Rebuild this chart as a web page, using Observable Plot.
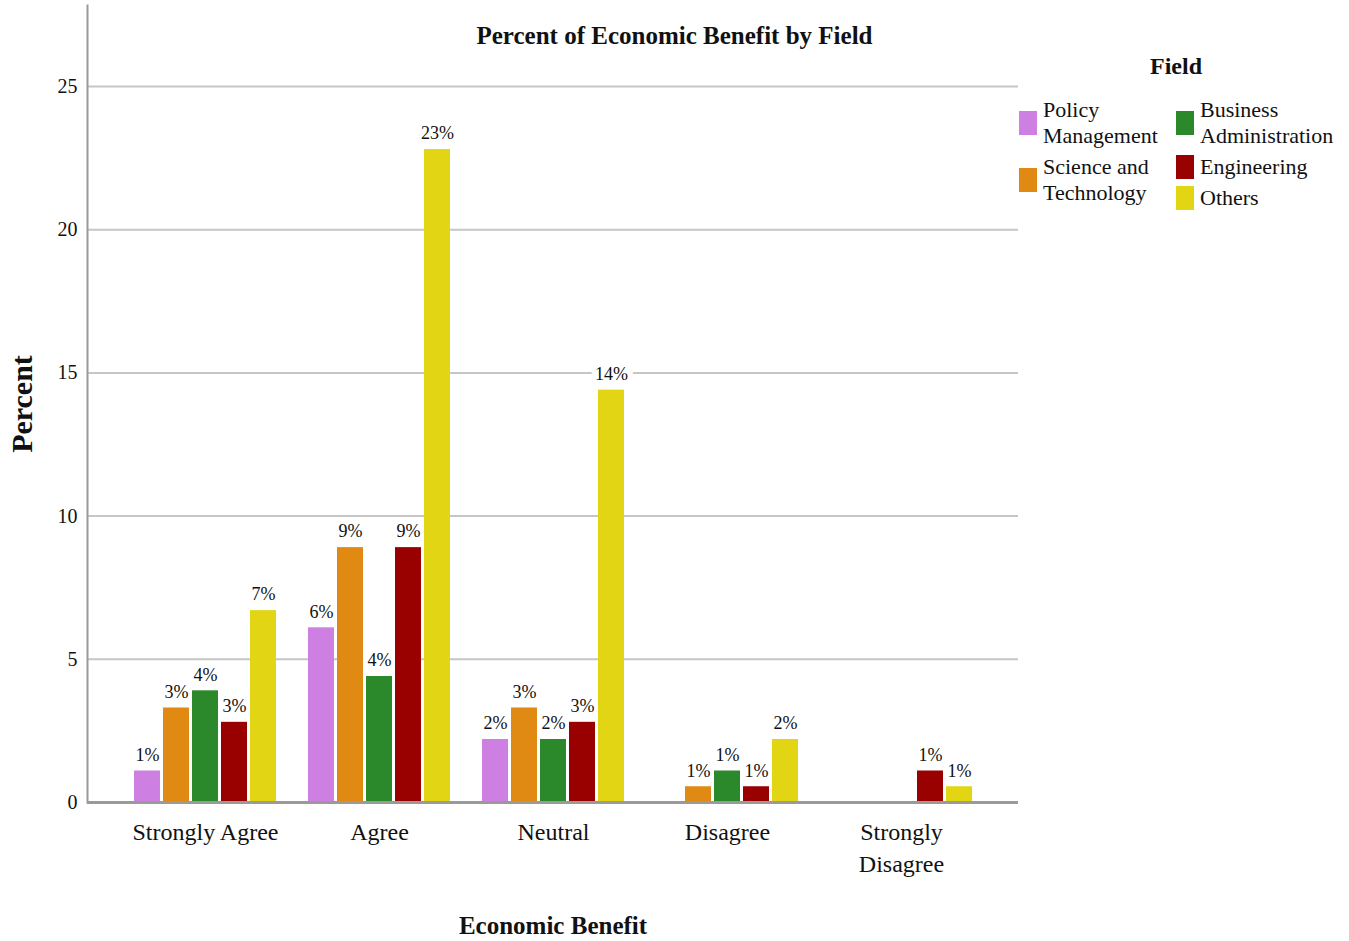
<!DOCTYPE html>
<html>
<head>
<meta charset="utf-8">
<script src="https://cdn.jsdelivr.net/npm/d3@7"></script>
<script src="https://cdn.jsdelivr.net/npm/@observablehq/plot@0.6"></script>
<style>
  html, body { margin: 0; padding: 0; background: #fff; }
  #chart { position: relative; width: 1349px; height: 941px; font-family: "Liberation Serif", "Times New Roman", serif; color: #111; }
  #title { position: absolute; left: 0; width: 1349px; top: 20px; text-align: center; font-weight: bold; font-size: 25px; line-height: 32px; }
  #legend { position: absolute; left: 1019px; top: 50px; width: 330px; }
  #legend .head { position: absolute; left: 0; width: 314px; top: 0; text-align: center; font-weight: bold; font-size: 24px; line-height: 32px; }
  #legend .cols { position: absolute; top: 47px; left: 0; display: flex; }
  #legend .col { display: flex; flex-direction: column; gap: 5px; }
  #legend .col + .col { position: absolute; left: 157px; width: 180px; }
  #legend .item { display: flex; align-items: center; }
  #legend .sw { width: 18px; height: 24px; flex: none; margin-right: 6px; }
  #legend .lab { font-size: 22px; line-height: 26px; white-space: pre; }
</style>
</head>
<body>
<div id="chart">
  <div id="title"></div>
  <div id="legend"></div>
</div>
<script>
// Response categories (x groups) and their axis labels
const categories = ["Strongly Agree", "Agree", "Neutral", "Disagree", "Strongly Disagree"];
const categoryLabels = ["Strongly Agree", "Agree", "Neutral", "Disagree", "Strongly\nDisagree"];

// Fields (series) and their colours
const fields = ["Policy Management", "Science and Technology", "Business Administration", "Engineering", "Others"];
const fieldLabels = ["Policy\nManagement", "Science and\nTechnology", "Business\nAdministration", "Engineering", "Others"];
const fieldColors = ["#cd80e2", "#e08a13", "#2b882b", "#990000", "#e2d614"];

// Percent of respondents per category, one array per field (null = no responses)
const policyManagement       = [1.1,  6.1,  2.2, null, null];
const scienceTechnology      = [3.3,  8.9,  3.3, 0.55, null];
const businessAdministration = [3.9,  4.4,  2.2, 1.1,  null];
const engineering            = [2.8,  8.9,  2.8, 0.55, 1.1];
const others                 = [6.7, 22.8, 14.4, 2.2,  0.55];

const yTicks = [0, 5, 10, 15, 20, 25];

const seriesValues = [policyManagement, scienceTechnology, businessAdministration, engineering, others];

// Each category gets one slot per field plus a spacer slot, giving grouped bars on a single band scale
const slotKey = (c, f) => `${c}|${f}`;
const slots = categories.flatMap(c => [...fields.map(f => slotKey(c, f)), slotKey(c, "")]);
const middleSlots = categories.map(c => slotKey(c, fields[2]));
const labelOf = new Map(categories.map((c, i) => [slotKey(c, fields[2]), categoryLabels[i]]));

const rows = [];
fields.forEach((f, fi) => {
  categories.forEach((c, ci) => {
    const v = seriesValues[fi][ci];
    if (v != null) rows.push({category: c, field: f, value: v, slot: slotKey(c, f)});
  });
});

const chart = Plot.plot({
  width: 1349,
  height: 941,
  marginLeft: 87,
  marginRight: 331,
  marginTop: 5,
  marginBottom: 139,
  style: {fontFamily: "'Liberation Serif', 'Times New Roman', serif", background: "transparent", color: "#111"},
  x: {type: "band", domain: slots, paddingInner: 0.1, paddingOuter: 0.05, insetLeft: 45.5, insetRight: 15.5, axis: null},
  y: {domain: [0, 27.83], axis: null},
  color: {domain: fields, range: fieldColors},
  marks: [
    Plot.ruleY(yTicks.filter(t => t > 0), {stroke: "#c6c6c6", strokeWidth: 2}),
    Plot.axisY(yTicks, {tickSize: 0, tickPadding: 10, fontSize: 20, label: null}),
    Plot.text(rows, {
      x: "slot", y: "value", text: d => `${Math.round(d.value)}%`,
      dy: -16, fontSize: 18, fill: "#111", stroke: "white", strokeWidth: 12
    }),
    Plot.barY(rows, {x: "slot", y: "value", fill: "field"}),
    Plot.ruleY([0], {stroke: "#9a9a9a", strokeWidth: 3}),
    Plot.frame({anchor: "left", stroke: "#9a9a9a", strokeWidth: 2}),
    Plot.axisX(middleSlots, {
      tickSize: 0, tickPadding: 15, fontSize: 24, lineHeight: 1.33, label: null,
      tickFormat: k => labelOf.get(k)
    }),
    Plot.text(["Economic Benefit"], {frameAnchor: "bottom", dy: 131, fontSize: 25, fontWeight: "bold", fill: "#111"}),
    Plot.text(["Percent"], {frameAnchor: "left", textAnchor: "middle", dx: -65, rotate: -90, fontSize: 30, fontWeight: "bold", fill: "#111"})
  ]
});

const root = document.getElementById("chart");
root.insertBefore(chart, root.firstChild);
chart.style.position = "absolute";
chart.style.left = "0";
chart.style.top = "0";

document.getElementById("title").textContent = "Percent of Economic Benefit by Field";

// Legend: two columns, field order runs down the first column then the second
const legend = document.getElementById("legend");
legend.innerHTML = `<div class="head">Field</div><div class="cols"><div class="col"></div><div class="col"></div></div>`;
const cols = legend.querySelectorAll(".col");
fields.forEach((f, i) => {
  const item = document.createElement("div");
  item.className = "item";
  item.innerHTML = `<div class="sw" style="background:${fieldColors[i]}"></div><div class="lab"></div>`;
  item.querySelector(".lab").textContent = fieldLabels[i];
  cols[i < 2 ? 0 : 1].appendChild(item);
});
</script>
</body>
</html>
